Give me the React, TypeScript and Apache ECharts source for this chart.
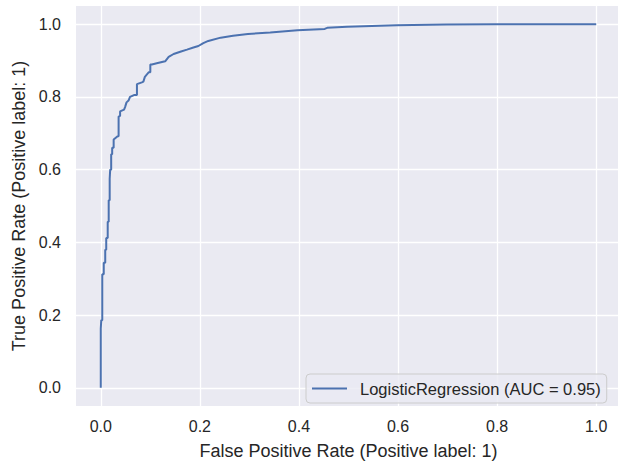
import React, { useEffect, useRef } from "react";
import * as echarts from "echarts";

const fpr = [
  0, 0, 0.001, 0.001, 0.003, 0.003, 0.006, 0.006, 0.009, 0.009,
  0.011, 0.011, 0.014, 0.014, 0.016, 0.016, 0.018, 0.018, 0.019, 0.019,
  0.021, 0.021, 0.023, 0.023, 0.026, 0.026, 0.034, 0.036, 0.036, 0.039,
  0.039, 0.047, 0.049, 0.052, 0.056, 0.059, 0.067, 0.073, 0.073, 0.083,
  0.086, 0.089, 0.097, 0.1, 0.1, 0.103, 0.103, 0.115, 0.13, 0.137,
  0.147, 0.162, 0.174, 0.187, 0.197, 0.207, 0.217, 0.242, 0.267, 0.297,
  0.342, 0.397, 0.452, 0.457, 0.497, 0.547, 0.597, 0.697, 0.797, 1.0,
];
const tpr = [
  0, 0.163, 0.163, 0.186, 0.186, 0.312, 0.312, 0.344, 0.344, 0.38,
  0.38, 0.412, 0.412, 0.457, 0.457, 0.516, 0.516, 0.575, 0.575, 0.6,
  0.6, 0.642, 0.642, 0.66, 0.66, 0.683, 0.692, 0.692, 0.746, 0.748,
  0.76, 0.765, 0.772, 0.785, 0.79, 0.8, 0.805, 0.805, 0.835, 0.84,
  0.842, 0.855, 0.868, 0.868, 0.889, 0.889, 0.89, 0.893, 0.898, 0.91,
  0.918, 0.925, 0.93, 0.936, 0.94, 0.948, 0.954, 0.963, 0.968, 0.973,
  0.977, 0.983, 0.987, 0.99, 0.993, 0.995, 0.997, 0.999, 1.0, 1.0,
];
const tickValues = [0, 0.2, 0.4, 0.6, 0.8, 1.0];
const seriesName = "LogisticRegression (AUC = 0.95)";
const xTitle = "False Positive Rate (Positive label: 1)";
const yTitle = "True Positive Rate (Positive label: 1)";

const FONT = "'Liberation Sans', Arial, sans-serif";
const TEXT = "#262626";

export default function App() {
  const ref = useRef<HTMLDivElement>(null);
  useEffect(() => {
    document.body.style.margin = "0";
    const chart = echarts.init(ref.current!, null, { renderer: "svg" });
    const axisCommon = (name: string, gap: number, margin: number) => ({
      type: "value" as const,
      min: -0.05,
      max: 1.05,
      name,
      nameLocation: "middle" as const,
      nameGap: gap,
      nameTextStyle: { fontSize: 18, color: TEXT, fontFamily: FONT },
      axisLine: { show: false },
      axisTick: { show: false, customValues: tickValues },
      axisLabel: {
        customValues: tickValues,
        fontSize: 16,
        color: TEXT,
        fontFamily: FONT,
        margin,
        formatter: (v: number) => v.toFixed(1),
      },
      splitLine: { show: true, lineStyle: { color: "#ffffff", width: 1.3 } },
    });
    chart.setOption({
      animation: false,
      backgroundColor: "#ffffff",
      grid: {
        left: 76,
        top: 6,
        width: 545,
        height: 404,
        show: true,
        backgroundColor: "#EAEAF2",
        borderWidth: 0,
      },
      xAxis: axisCommon(xTitle, 36, 12),
      yAxis: axisCommon(yTitle, 43, 15),
      legend: {
        left: 306,
        top: 374,
        orient: "horizontal",
        padding: [5, 6, 5, 6],
        backgroundColor: "rgba(234,234,242,0.8)",
        borderColor: "#cccccc",
        borderWidth: 1,
        borderRadius: 4,
        icon: "rect",
        itemWidth: 35,
        itemHeight: 2,
        textStyle: { fontSize: 16.5, color: TEXT, fontFamily: FONT, padding: [0, 0, 0, 8], lineHeight: 19 },
        data: [seriesName],
      },
      series: [
        {
          name: seriesName,
          type: "line",
          symbol: "none",
          data: fpr.map((x, i) => [x, tpr[i]]),
          lineStyle: { color: "#4C72B0", width: 2 },
          itemStyle: { color: "#4C72B0" },
        },
      ],
    });
    return () => chart.dispose();
  }, []);
  return (
    <div style={{ position: "fixed", left: 0, top: 0, width: 618, height: 465, overflow: "hidden" }}>
      <div ref={ref} style={{ width: 624, height: 465 }} />
    </div>
  );
}
